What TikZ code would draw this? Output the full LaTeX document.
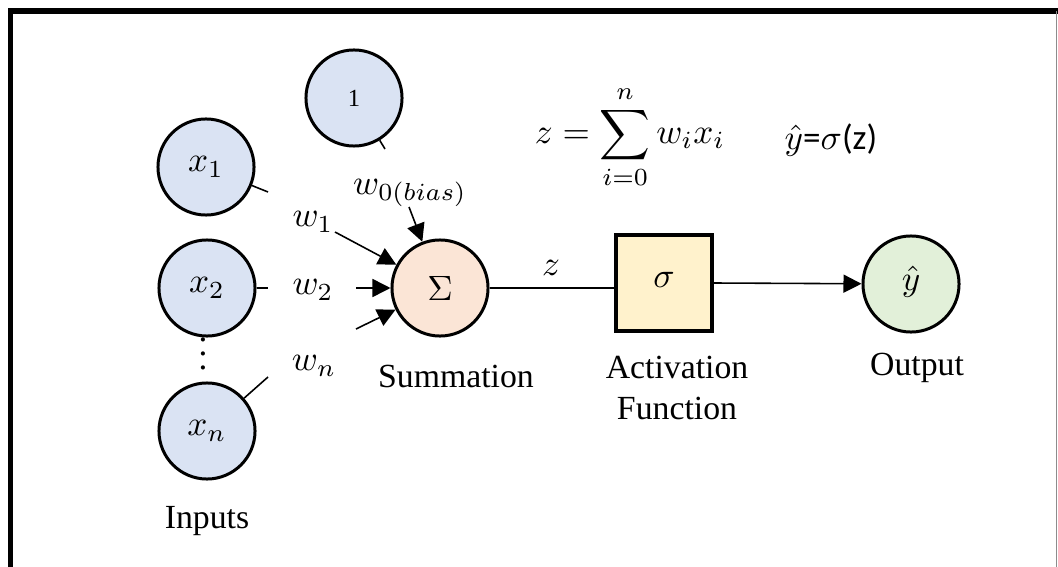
\documentclass[tikz,border=0pt]{standalone}
\usepackage{fontspec}
\setmainfont{Liberation Serif}
\newfontfamily\carlito{Carlito}
\usetikzlibrary{arrows.meta}
\definecolor{inblue}{HTML}{DAE3F3}
\definecolor{sumpeach}{HTML}{FBE5D6}
\definecolor{actyellow}{HTML}{FFF2CC}
\definecolor{outgreen}{HTML}{E2F0D9}

\begin{document}
\begin{tikzpicture}[x=0.01cm, y=-0.01cm,
  unit/.style={circle, draw=black, line width=0.85pt, minimum size=0.96cm, inner sep=0pt},
  inp/.style={unit, fill=inblue},
  sumnode/.style={unit, fill=sumpeach},
  outnode/.style={unit, fill=outgreen},
  actbox/.style={draw=black, line width=1.1pt, fill=actyellow, minimum size=0.96cm, inner sep=0pt},
  link/.style={draw=black, line width=0.45pt},
  arr/.style={link, -{Triangle[length=0.18cm, width=0.18cm]}},
  tag/.style={font=\fontsize{9.6}{11.6}\selectfont},
]
  \useasboundingbox (0,0) rectangle (1058,567);
  % frame
  \draw[line width=1.45pt] (10.5,567) -- (10.5,11) -- (1058,11);
  \draw[black!45, line width=0.4pt] (1056.5,11) -- (1056.5,567);

  % units
  \node[inp] (bias) at (354,98) {\scriptsize 1};
  \node[inp] (in1) at (206,167) {$x_1$};
  \node[inp] (in2) at (207,288) {$x_2$};
  \node[inner sep=0pt] (dots) at (203,343) {$\vdots$};
  \node[inp] (inn) at (207,431) {$x_n$};
  \node[sumnode] (sum) at (440,288) {$\Sigma$};
  \node[actbox] (act) at (664,283) {\raisebox{2pt}{$\sigma$}};
  \node[outnode] (out) at (911,284) {\raisebox{3pt}{$\hat{y}$}};

  % weights
  \node (w1) at (313,222) {$w_1$};
  \node (w2) at (313,290) {$w_2$};
  \node (wn) at (314,366) {$w_n$};
  \node (w0) at (410,193) {$w_{0(bias)}$};
  \node (zlbl) at (551,268) {$z$};

  % captions
  \node[tag] (lsum) at (456,376) {Summation};
  \node[tag, align=center] (lact) at (677,388) {Activation\\Function};
  \node[tag] (lout) at (917,368) {Output};
  \node[tag] (linp) at (207,521) {Inputs};

  % formulas
  \node (zeq) at (630,137) {$\displaystyle z=\sum_{i=0}^{n} w_i x_i$};
  \node (yeq) at (831,140) {$\hat{y}${\carlito=}$\sigma${\carlito(z)}};

  % connectors
  \coordinate (s1) at (268,192);
  \coordinate (a1) at (335,232);
  \coordinate (s2) at (268,288);
  \coordinate (a2) at (356,288);
  \coordinate (sn) at (268,377);
  \coordinate (an) at (356,329);
  \coordinate (s0) at (385,149);
  \coordinate (a0) at (409,207);
  \draw[link] (in1) -- (s1);
  \draw[arr] (a1) -- (sum);
  \draw[link] (in2) -- (s2);
  \draw[arr] (a2) -- (sum);
  \draw[link] (inn) -- (sn);
  \draw[arr] (an) -- (sum);
  \draw[link] (bias) -- (s0);
  \draw[arr] (a0) -- (sum);
  \draw[link] (sum) -- (sum -| act.west);
  \draw[arr] (act.east) -- (out);
\end{tikzpicture}
\end{document}
